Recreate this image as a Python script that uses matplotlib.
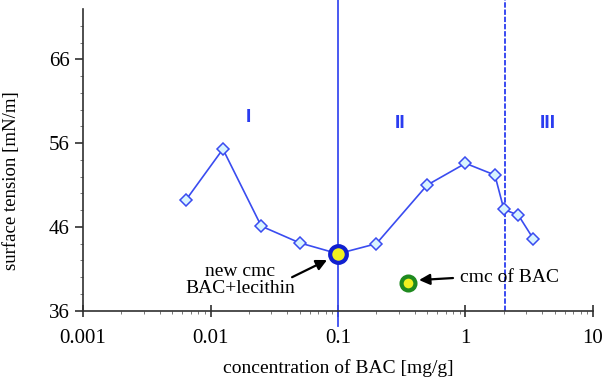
import matplotlib.pyplot as plt
import numpy as np

# surface tension of BAC + lecithin vs concentration
conc = [0.0064, 0.0125, 0.025, 0.05, 0.1, 0.2, 0.5, 1.0, 1.7, 2.0, 2.6, 3.4]
tension = [49.2, 55.3, 46.1, 44.1, 42.8, 44.0, 51.0, 53.6, 52.2, 48.1, 47.4, 44.6]

new_cmc = (0.1, 42.8)
bac_cmc = (0.356, 39.3)
region_lines = [0.1, 2.05]
region_labels = ['I', 'II', 'III']
region_x = [0.0197, 0.306, 4.44]
region_y = [59.1, 58.3, 58.4]

plt.rcParams['font.family'] = ['Liberation Serif', 'DejaVu Serif']

fig = plt.figure(figsize=(6.02, 3.85), dpi=100)
ax = fig.add_axes([0.138, 0.193, 0.847, 0.783])

blue = '#3a4cf0'
ax.plot(conc, tension, color=blue, lw=1.2, marker='D', ms=6,
        mfc='#d8f4ff', mec=blue, mew=1.1, zorder=3)

# region boundaries
ax.plot([region_lines[0]] * 2, [34.2, 73.2], color='#3a4cf0', lw=1.3, clip_on=False, zorder=2)
ax.plot([region_lines[1]] * 2, [36, 73.2], color='#2a3cf0', lw=1.3, ls=(0, (3, 1)),
        clip_on=False, zorder=2)

ax.plot(*new_cmc, 'o', ms=12, mfc='#f0f020', mec='#1020d0', mew=3, zorder=5)
ax.plot(*bac_cmc, 'o', ms=10, mfc='#f0f020', mec='#1f8a1f', mew=3, zorder=5)

for lab, xx, yy in zip(region_labels, region_x, region_y):
    ax.text(xx, yy, lab, color='#2a3cf0', fontsize=14, fontweight='bold',
            family='Liberation Sans', ha='center', va='center')

ax.text(0.017, 39.7, 'new cmc\nBAC+lecithin', ha='center', va='center',
        fontsize=14, linespacing=1.0)
ax.annotate('', xy=(0.082, 42.05), xytext=(0.0436, 40.0),
            arrowprops=dict(arrowstyle='-|>', color='black', lw=1.6,
                            mutation_scale=16, shrinkA=0, shrinkB=0))
ax.text(0.905, 40.0, 'cmc of BAC', ha='left', va='center', fontsize=14)
ax.annotate('', xy=(0.432, 39.66), xytext=(0.798, 39.9),
            arrowprops=dict(arrowstyle='-|>', color='black', lw=1.6,
                            mutation_scale=16, shrinkA=0, shrinkB=0))

ax.set_xscale('log')
ax.set_xlim(0.001, 10)
ax.set_ylim(36, 72)
ax.set_yticks([36, 46, 56, 66])
ax.set_xticks([0.001, 0.01, 0.1, 1, 10])
ax.set_xticklabels(['0.001', '0.01', '0.1', '1', '10'])
ax.set_yticks(np.arange(36, 72, 2), minor=True)

for s in ['top', 'right']:
    ax.spines[s].set_visible(False)
for s in ['left', 'bottom']:
    ax.spines[s].set_color('#303030')
    ax.spines[s].set_linewidth(1.2)

ax.tick_params(axis='x', which='major', direction='inout', length=8, width=1.2,
               labelsize=15, pad=9, colors='#303030', labelcolor='black')
ax.tick_params(axis='y', which='major', direction='out', length=6, width=1.2,
               labelsize=15, colors='#303030', labelcolor='black')
ax.tick_params(which='minor', length=2, width=0.6, colors='#606060')

ax.set_xlabel('concentration of BAC [mg/g]', fontsize=14, labelpad=8)
ax.set_ylabel('surface tension [mN/m]', fontsize=13.5)
ax.yaxis.set_label_coords(-0.124, 0.43)

fig.savefig('out.png', dpi=100)
